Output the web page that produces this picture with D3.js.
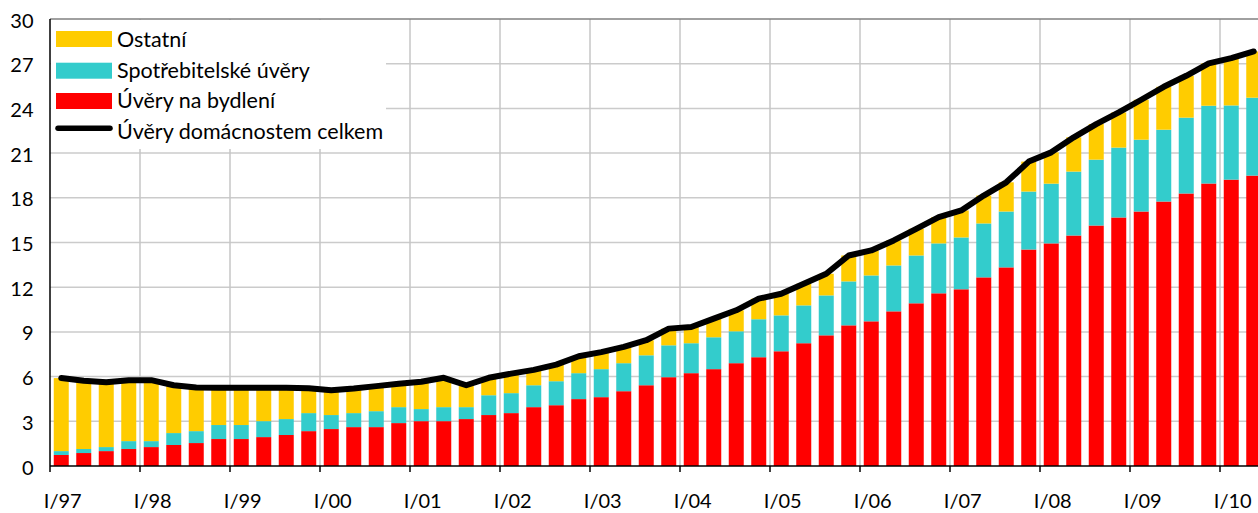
<!DOCTYPE html>
<html><head><meta charset="utf-8">
<script src="https://cdn.jsdelivr.net/npm/d3@7"></script>
<style>
html,body{margin:0;padding:0;background:#fff;}
svg{display:block;}
text{font-family:Lato,"Noto Sans",sans-serif;fill:#000;}
</style></head>
<body>
<svg id="chart" width="1258" height="513"></svg>
<script>
// ---- data (quarterly, I/97 .. II/10) ----
const years = ["97","98","99","00","01","02","03","04","05","06","07","08","09","10"];
const quarterNames = ["I","II","III","IV"];
const categories = [];
years.forEach(y => quarterNames.forEach(q => categories.push(q + "/" + y)));
categories.length = 54;

const housing = [0.74,0.87,1.00,1.14,1.27,1.41,1.54,1.81,1.81,1.94,2.08,2.34,2.48,2.61,2.61,2.88,
  3.01,3.01,3.15,3.42,3.55,3.95,4.08,4.49,4.62,5.02,5.42,5.96,6.23,6.50,6.90,7.30,7.70,8.24,
  8.77,9.44,9.71,10.38,10.92,11.59,11.86,12.66,13.33,14.53,14.94,15.47,16.14,16.68,17.08,17.75,
  18.29,18.96,19.22,19.49];
const consumer = [0.26,0.27,0.27,0.53,0.40,0.80,0.80,0.94,0.94,1.07,1.07,1.21,0.94,0.94,1.07,1.07,
  0.81,0.94,0.80,1.33,1.34,1.47,1.61,1.74,1.88,1.88,2.01,2.14,2.01,2.14,2.14,2.55,2.41,2.54,
  2.68,2.95,3.08,3.08,3.21,3.35,3.48,3.62,3.75,3.89,4.01,4.29,4.42,4.69,4.82,4.82,5.09,5.22,
  4.98,5.23];
const other = [4.90,4.58,4.35,4.09,4.09,3.21,2.93,2.50,2.50,2.24,2.10,1.67,1.66,1.65,1.68,1.57,
  1.83,1.97,1.47,1.17,1.31,1.03,1.11,1.14,1.14,1.09,1.01,1.12,1.09,1.25,1.41,1.38,1.45,1.45,
  1.45,1.74,1.68,1.68,1.79,1.76,1.81,1.87,1.96,2.01,2.10,2.30,2.39,2.36,2.68,2.88,2.81,2.84,
  3.17,3.10];
const total = [5.90,5.72,5.62,5.76,5.76,5.42,5.27,5.25,5.25,5.25,5.25,5.22,5.08,5.20,5.36,5.52,
  5.65,5.92,5.42,5.92,6.20,6.45,6.80,7.37,7.64,7.99,8.44,9.22,9.33,9.89,10.45,11.23,11.56,12.23,
  12.90,14.13,14.47,15.14,15.92,16.70,17.15,18.15,19.04,20.43,21.05,22.06,22.95,23.73,24.58,
  25.45,26.19,27.02,27.37,27.82];

const yTicks = [0,3,6,9,12,15,18,21,24,27,30];
const seriesNames = ["Ostatní","Spotřebitelské úvěry","Úvěry na bydlení","Úvěry domácnostem celkem"];
const colors = {other:"#FFCC00", consumer:"#33CCCC", housing:"#FF0000", total:"#000000"};

// ---- layout ----
const svg = d3.select("#chart");
const pL = 50, pT = 19, pB = 466, W = 1258;
const step = 22.5;
const x = d3.scaleBand().domain(categories)
  .range([pL, pL + categories.length * step])
  .paddingInner(1/3).paddingOuter(1/6);
const y = d3.scaleLinear().domain([0,30]).range([pB, pT]);

// gridlines
const grid = svg.append("g");
grid.selectAll("line.h").data(yTicks.filter(d => d > 0 && d < 30)).join("line")
  .attr("x1", pL).attr("x2", W)
  .attr("y1", d => y(d)).attr("y2", d => y(d))
  .attr("stroke", "#cbcbcb").attr("stroke-width", 1.5);
const yearStarts = categories.filter(c => c.startsWith("I/"));
const bx = c => x(c) - x.step() * x.paddingInner() / 2;
grid.selectAll("line.v").data(yearStarts.slice(1)).join("line")
  .attr("x1", d => bx(d)).attr("x2", d => bx(d))
  .attr("y1", pT).attr("y2", pB)
  .attr("stroke", "#c6c6c6").attr("stroke-width", 1.5);
// top border
svg.append("line").attr("x1", pL).attr("x2", W).attr("y1", pT).attr("y2", pT)
  .attr("stroke", "#808080").attr("stroke-width", 1.5);

// stacked bars
const rows = categories.map((c,i) => ({cat:c, housing:housing[i], consumer:consumer[i], other:other[i]}));
const stack = d3.stack().keys(["housing","consumer","other"])(rows);
svg.append("g").selectAll("g").data(stack).join("g")
  .attr("fill", d => colors[d.key])
  .selectAll("rect").data(d => d).join("rect")
  .attr("x", d => x(d.data.cat)).attr("width", x.bandwidth())
  .attr("y", d => y(d[1])).attr("height", d => y(d[0]) - y(d[1]));

// total line
const line = d3.line().x((d,i) => x(categories[i]) + x.bandwidth()/2).y(d => y(d));
svg.append("path").datum(total).attr("d", line)
  .attr("fill","none").attr("stroke", colors.total).attr("stroke-width", 6)
  .attr("stroke-linejoin","round").attr("stroke-linecap","round");

// axes
const xAxis = svg.append("g");
xAxis.append("line").attr("x1", pL).attr("x2", W).attr("y1", pB).attr("y2", pB)
  .attr("stroke","#000").attr("stroke-width",1.5);
xAxis.selectAll("line.t").data(yearStarts).join("line")
  .attr("x1", d => bx(d)).attr("x2", d => bx(d))
  .attr("y1", pB).attr("y2", pB + 6).attr("stroke","#000").attr("stroke-width",1.5);
xAxis.selectAll("text").data(yearStarts).join("text")
  .attr("x", d => x(d) + x.bandwidth()/2 + 1.5).attr("y", 507.5)
  .attr("text-anchor","middle").attr("font-size", 20).text(d => d);

svg.append("line").attr("x1", pL).attr("x2", pL).attr("y1", pT).attr("y2", pB)
  .attr("stroke","#000").attr("stroke-width",1.5);
svg.append("g").selectAll("text").data(yTicks).join("text")
  .attr("x", 33.5).attr("y", d => y(d) + 1.5).attr("dy","0.35em")
  .attr("text-anchor","end").attr("font-size", 20).text(d => d);

// legend
const lg = svg.append("g");
lg.append("rect").attr("x", pL + 1).attr("y", pT + 1).attr("width", 335).attr("height", 129).attr("fill","#fff");
const keys = ["other","consumer","housing","total"];
const markY = [39, 70.7, 101, 128.3];
const textY = [46.7, 77.7, 108.3, 139.3];
keys.forEach((k,i) => {
  if (k === "total") {
    lg.append("line").attr("x1", 58).attr("x2", 110).attr("y1", markY[i]).attr("y2", markY[i])
      .attr("stroke","#000").attr("stroke-width",5.5).attr("stroke-linecap","round");
  } else {
    lg.append("rect").attr("x", 56).attr("y", markY[i] - 8).attr("width", 56).attr("height", 16).attr("fill", colors[k]);
  }
  lg.append("text").attr("x", 117).attr("y", textY[i]).attr("font-size", 21.5).text(seriesNames[i]);
});
</script>
</body></html>
